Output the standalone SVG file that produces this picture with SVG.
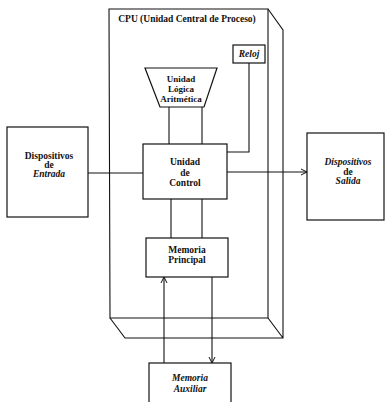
<svg xmlns="http://www.w3.org/2000/svg" width="386" height="402" viewBox="0 0 386 402">
<defs>
<style>
.b{fill:#fff;stroke:#111;stroke-width:1.2}
.l{fill:none;stroke:#111;stroke-width:1.1}
.t{font-family:"Liberation Serif","Times New Roman",serif;font-size:9.5px;font-weight:bold;fill:#111;text-anchor:middle}
.s{font-size:9px}
.i{font-style:italic}
</style>
<marker id="ah" markerWidth="8" markerHeight="8" refX="7" refY="4" orient="auto" markerUnits="userSpaceOnUse">
<path d="M1,1 L7,4 L1,7" fill="none" stroke="#111" stroke-width="1"/>
</marker>
</defs>
<rect width="386" height="402" fill="#fff"/>
<g id="cpu">
<path class="l" d="M109,9 L268,9 L268,318 L110,318 Z"/>
<path class="l" d="M268,9 L283,30 L283,338 L125,338 L110,318 M268,318 L283,338"/>
<text class="t" x="187" y="22">CPU (Unidad Central de Proceso)</text>
</g>
<g id="connectors">
<path class="l" d="M249,63 L249,152 L227,152"/>
<path class="l" d="M169,107 L169,144 M202,107 L202,144"/>
<path class="l" d="M171,199 L171,238 M202,199 L202,238"/>
<path class="l" d="M88,173 L143,173"/>
<path class="l" d="M227,172 L307,172" marker-end="url(#ah)"/>
<path class="l" d="M164,363 L164,277" marker-end="url(#ah)"/>
<path class="l" d="M212,277 L212,363" marker-end="url(#ah)"/>
</g>
<g id="reloj">
<rect class="b" x="233" y="45" width="32" height="18"/>
<text class="t i" x="249" y="57">Reloj</text>
</g>
<g id="alu">
<path class="b" d="M145,68 L217,68 L204,107 L160,107 Z"/>
<text class="t s" x="181" y="82">Unidad</text>
<text class="t s" x="181" y="92">Lógica</text>
<text class="t s" x="181" y="102">Aritmética</text>
</g>
<g id="control">
<rect class="b" x="143" y="144" width="84" height="55"/>
<text class="t" x="185" y="165">Unidad</text>
<text class="t" x="185" y="176">de</text>
<text class="t" x="185" y="186">Control</text>
</g>
<g id="entrada">
<rect class="b" x="7" y="127" width="81" height="90"/>
<text class="t" x="49" y="159">Dispositivos</text>
<text class="t" x="49" y="168">de</text>
<text class="t i" x="49" y="177">Entrada</text>
</g>
<g id="salida">
<rect class="b" x="307" y="133" width="77" height="87"/>
<text class="t i" x="348" y="165">Dispositivos</text>
<text class="t" x="348" y="175">de</text>
<text class="t i" x="348" y="184">Salida</text>
</g>
<g id="memoria-principal">
<rect class="b" x="146" y="238" width="82" height="39"/>
<text class="t" x="187" y="253">Memoria</text>
<text class="t" x="187" y="263">Principal</text>
</g>
<g id="memoria-auxiliar">
<rect class="b" x="149" y="363" width="82" height="45"/>
<text class="t i" x="190" y="381">Memoria</text>
<text class="t i" x="190" y="392">Auxiliar</text>
</g>
</svg>
